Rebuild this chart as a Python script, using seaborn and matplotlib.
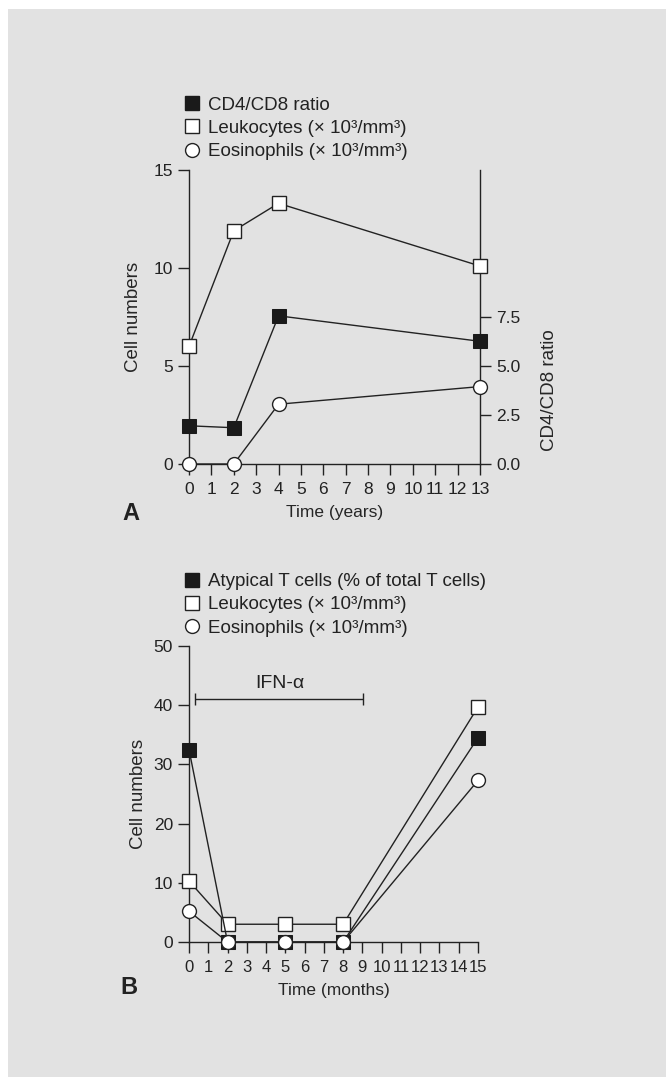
import pandas as pd
import seaborn as sns
import matplotlib.pyplot as plt
from matplotlib.lines import Line2D
from matplotlib.patches import Rectangle

# panel A (years)
years = [0, 2, 4, 13]
cd4cd8_ratio = [1.95, 1.85, 7.56, 6.26]
leuko_a = [6.0, 11.9, 13.3, 10.1]
eosino_a = [0.0, 0.0, 3.05, 3.95]

# panel B (months)
months = [0, 2, 5, 8, 15]
atypical_t = [32.5, 0.0, 0.0, 0.0, 34.5]
leuko_b = [10.3, 3.0, 3.0, 3.0, 39.7]
eosino_b = [5.2, 0.0, 0.0, 0.0, 27.3]

ifn_start, ifn_end, ifn_level = 0.3, 9.05, 41.0

sns.set_style('ticks')
plt.rcParams['font.family'] = ['Liberation Sans', 'DejaVu Sans']
plt.rcParams['axes.edgecolor'] = '#222222'
plt.rcParams['xtick.color'] = '#222222'
plt.rcParams['ytick.color'] = '#222222'
plt.rcParams['text.color'] = '#222222'

bg = '#e2e2e2'
fig = plt.figure(figsize=(6.66, 10.77), dpi=100)
fig.patch.set_facecolor('white')
fig.patches.append(Rectangle((8 / 666, 0), 1, 1 - 9 / 1077, transform=fig.transFigure,
                             facecolor=bg, edgecolor='none', zorder=-10))

W, H = 666, 1077
def box(l, t, r, b):
    return [l / W, 1 - b / H, (r - l) / W, (b - t) / H]

styles = {
    'black': dict(marker='s', markerfacecolor='#1a1a1a', markeredgecolor='#1a1a1a', markersize=10),
    'square': dict(marker='s', markerfacecolor='white', markeredgecolor='#222222', markersize=10, markeredgewidth=1),
    'circle': dict(marker='o', markerfacecolor='white', markeredgecolor='#222222', markersize=10, markeredgewidth=1),
}

def draw(ax, x, y, kind, z):
    sns.lineplot(x=x, y=y, ax=ax, color='#222222', linewidth=1, clip_on=False, zorder=z, **styles[kind])

def legend(ax, labels, y0):
    handles = [Line2D([], [], linestyle='none', **styles[k]) for k in ['black', 'square', 'circle']]
    ax.legend(handles, labels, loc='lower left', bbox_to_anchor=(-0.055, y0), frameon=False,
              fontsize=13.5, handletextpad=0.25, labelspacing=0.33, borderaxespad=0, handlelength=1.2)

def style_axes(ax):
    ax.set_facecolor('none')
    sns.despine(ax=ax, top=True, right=True)
    ax.tick_params(labelsize=12.5, length=8, width=1)
    ax.tick_params(axis='x', pad=5)
    for s in ['left', 'bottom']:
        ax.spines[s].set_linewidth(1)

sup = 'Leukocytes (× 10³/mm³)'
eos = 'Eosinophils (× 10³/mm³)'

# ---- panel A ----
ax = fig.add_axes(box(189, 170, 480, 464))
draw(ax, years, leuko_a, 'square', 3)
draw(ax, years, cd4cd8_ratio, 'black', 4)
draw(ax, years, eosino_a, 'circle', 5)
ax.set_xlim(0, 13)
ax.set_ylim(0, 15)
ax.set_xticks(range(0, 14))
ax.set_yticks([0, 5, 10, 15])
style_axes(ax)
ax.set_xlabel('Time (years)', fontsize=12.5, labelpad=6)
ax.set_ylabel('Cell numbers', fontsize=13.5, labelpad=8)
ax2 = ax.twinx()
ax2.set_ylim(0, 15)
ax2.set_yticks([0, 2.5, 5, 7.5])
ax2.set_yticklabels(['0.0', '2.5', '5.0', '7.5'])
ax2.tick_params(labelsize=12.5, length=8, width=1)
for s in ['top', 'left', 'bottom']:
    ax2.spines[s].set_visible(False)
ax2.spines['right'].set_linewidth(1)
ax2.set_ylabel('CD4/CD8 ratio', fontsize=13.5, labelpad=15, y=0.25)
ax2.set_zorder(-1)
legend(ax, ['CD4/CD8 ratio', sup, eos], 1.008)
fig.text(131 / W, 1 - 513 / H, 'A', fontsize=17, fontweight='bold', va='center', ha='center')

# ---- panel B ----
bx = fig.add_axes(box(189, 646, 478, 942))
draw(bx, months, leuko_b, 'square', 3)
draw(bx, months, atypical_t, 'black', 4)
draw(bx, months, eosino_b, 'circle', 5)
bx.set_xlim(0, 15)
bx.set_ylim(0, 50)
bx.set_xticks(range(0, 16))
bx.set_yticks(range(0, 51, 10))
style_axes(bx)
bx.tick_params(axis='x', labelsize=12)
bx.set_xlabel('Time (months)', fontsize=12.5, labelpad=6)
bx.set_ylabel('Cell numbers', fontsize=13.5, labelpad=5)
bx.errorbar([(ifn_start + ifn_end) / 2], [ifn_level], xerr=[(ifn_end - ifn_start) / 2],
            color='#222222', linewidth=1, capsize=4)
bx.text(4.7, ifn_level + 1.2, 'IFN-α', fontsize=14, ha='center', va='bottom')
legend(bx, ['Atypical T cells (% of total T cells)', sup, eos], 1.006)
fig.text(129 / W, 1 - 988 / H, 'B', fontsize=17, fontweight='bold', va='center', ha='center')

fig.savefig('out.png', dpi=100)
